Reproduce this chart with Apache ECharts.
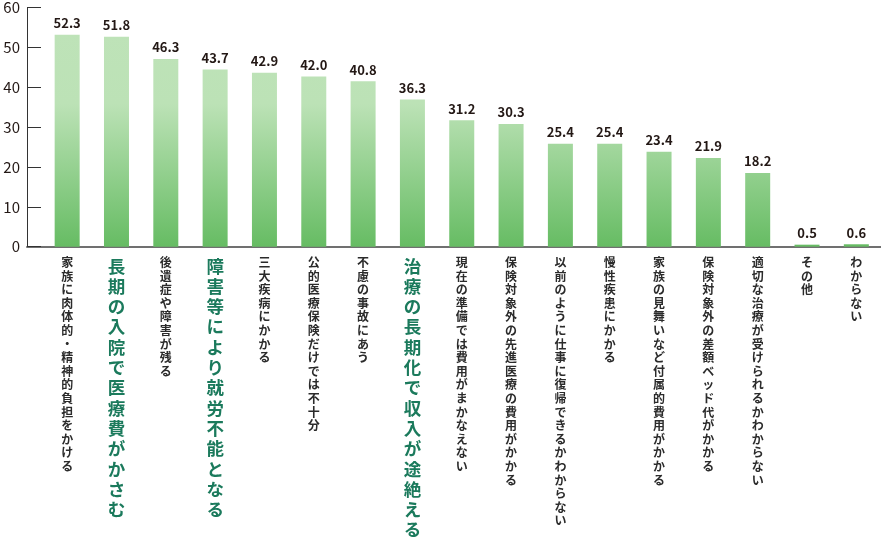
<!DOCTYPE html>
<html>
<head>
<meta charset="utf-8">
<script src="https://cdn.jsdelivr.net/npm/echarts@6/dist/echarts.min.js"></script>
<style>
html,body{margin:0;padding:0;background:#fff;}
#chart{width:881px;height:544px;}
</style>
</head>
<body>
<div id="chart"></div>
<script>
const categories = [
  '家族に肉体的・精神的負担をかける',
  '長期の入院で医療費がかさむ',
  '後遺症や障害が残る',
  '障害等により就労不能となる',
  '三大疾病にかかる',
  '公的医療保険だけでは不十分',
  '不慮の事故にあう',
  '治療の長期化で収入が途絶える',
  '現在の準備では費用がまかなえない',
  '保険対象外の先進医療の費用がかかる',
  '以前のように仕事に復帰できるかわからない',
  '慢性疾患にかかる',
  '家族の見舞いなど付属的費用がかかる',
  '保険対象外の差額ベッド代がかかる',
  '適切な治療が受けられるかわからない',
  'その他',
  'わからない'
];
const values = [52.3, 51.8, 46.3, 43.7, 42.9, 42.0, 40.8, 36.3, 31.2, 30.3, 25.4, 25.4, 23.4, 21.9, 18.2, 0.5, 0.6];
const highlighted = ['長期の入院で医療費がかさむ', '障害等により就労不能となる', '治療の長期化で収入が途絶える'];
const yTicks = [0, 10, 20, 30, 40, 50, 60];

const FONT = '"Noto Sans CJK JP", "Noto Sans", sans-serif';
const TOP = 3.5, BOTTOM = 297.3;

const chart = echarts.init(document.getElementById('chart'), null, {renderer: 'canvas'});
chart.setOption({
  animation: false,
  backgroundColor: '#fff',
  grid: [
    {left: 42.5, width: 850, top: TOP, bottom: BOTTOM},
    {left: 27, right: 0, top: TOP, bottom: BOTTOM}
  ],
  xAxis: [
    {
      type: 'category', gridIndex: 0, data: categories,
      axisLine: {show: false}, axisTick: {show: false},
      axisLabel: {
        interval: 0, margin: 9,
        formatter: function (v) {
          const s = v.split('').join('\n');
          return highlighted.indexOf(v) >= 0 ? '{h|' + s + '}' : '{n|' + s + '}';
        },
        rich: {
          n: {fontFamily: FONT, fontSize: 12, fontWeight: 'bold', color: '#2b2b2b', lineHeight: 13.6, align: 'center'},
          h: {fontFamily: FONT, fontSize: 17.5, fontWeight: 'bold', color: '#1b7a5c', lineHeight: 20.3, align: 'center'}
        }
      }
    },
    {
      type: 'value', gridIndex: 1, min: 0, max: 1,
      axisLine: {show: true, lineStyle: {color: '#707070', width: 2}},
      axisTick: {show: false}, axisLabel: {show: false}, splitLine: {show: false}
    }
  ],
  yAxis: [
    {type: 'value', gridIndex: 0, min: 0, max: 60, show: false, splitLine: {show: false}},
    {
      type: 'value', gridIndex: 1, min: 0, max: 60, interval: 10,
      axisLine: {show: true, lineStyle: {color: '#333', width: 1}},
      axisTick: {show: true, inside: true, length: 14, lineStyle: {color: '#333'}},
      splitLine: {show: false},
      axisLabel: {
        margin: 7, fontFamily: FONT, fontSize: 15, color: '#231815',
        formatter: function (v) { return yTicks.indexOf(v) >= 0 ? String(v) : ''; }
      }
    }
  ],
  series: [{
    type: 'bar', xAxisIndex: 0, yAxisIndex: 0,
    data: values, barWidth: 25,
    itemStyle: {
      color: {
        type: 'linear', global: true, x: 0, y: 0, x2: 0, y2: 247,
        colorStops: [
          {offset: 0, color: '#bfe3b9'},
          {offset: 0.42, color: '#bce2b6'},
          {offset: 1, color: '#66bc63'}
        ]
      }
    },
    label: {
      show: true, position: 'top', distance: 5,
      fontFamily: FONT, fontSize: 13, fontWeight: 'bold', color: '#231815',
      formatter: function (p) { return p.value.toFixed(1); }
    }
  }]
});
</script>
</body>
</html>
